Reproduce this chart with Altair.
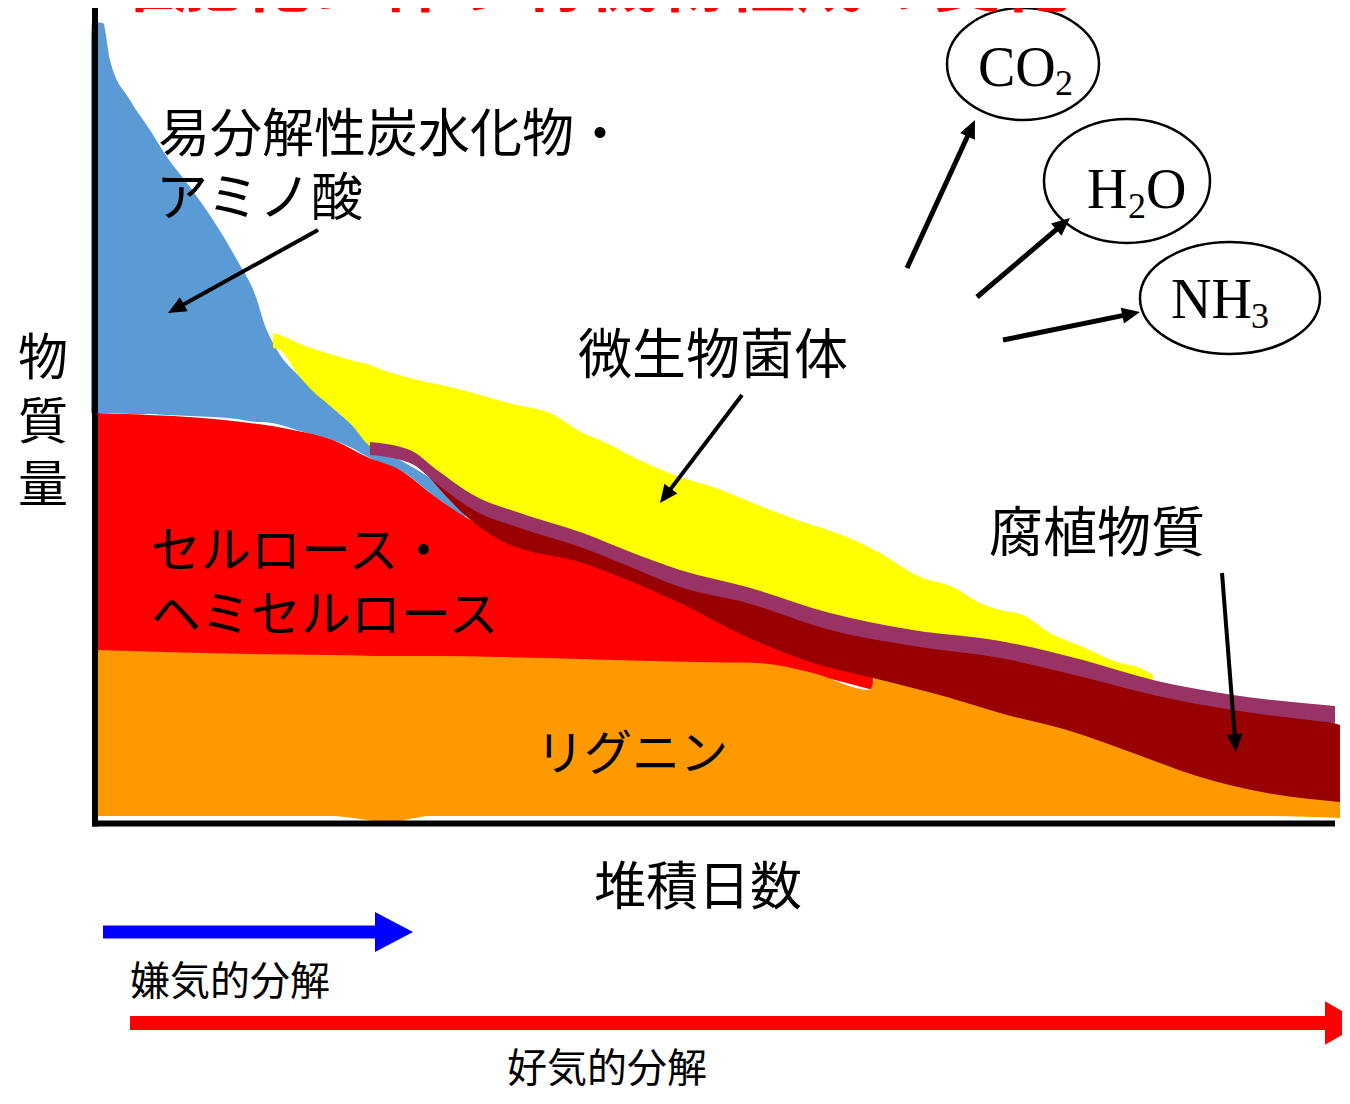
import math
import altair as alt
import pandas as pd

# ---------------- data (day, amount; arbitrary units) ----------------
# easily decomposable carbohydrates / amino acids (blue)
easy_day = [-0.4, -0.3, 0.8, 1.5, 3.5, 5.5, 7.2, 9.5, 11.8, 14.2, 16.2, 16.8, 18.2, 20.5, 23.2, 25.5, 27.5, 28.8, 30.5, 33.8, 37.0]
easy_top = [78.0, 79.8, 79.7, 76.0, 72.0, 69.0, 66.3, 63.3, 60.0, 56.0, 52.0, 50.0, 47.0, 44.3, 41.7, 39.7, 37.8, 37.0, 36.0, 34.0, 31.5]
easy_bot = [40.7, 40.7, 40.7, 40.7, 40.6, 40.6, 40.5, 40.4, 40.3, 40.1, 39.8, 39.8, 39.6, 38.9, 38.2, 37.3, 36.2, 35.6, 35.0, 32.5, 30.2]

# cellulose / hemicellulose (red)
cell_day = [0.1, 15.5, 19.8, 23.8, 27.2, 30.5, 33.8, 37.2, 40.5, 48.8, 58.5, 62.8, 66.2, 68.5, 71.8, 77.8]
cell_top = [40.7, 39.7, 39.0, 38.0, 36.3, 35.0, 32.5, 30.2, 28.5, 26.2, 22.2, 20.2, 18.8, 17.8, 16.5, 14.8]
cell_bot = [16.8, 16.5, 16.5, 16.4, 16.4, 16.3, 16.3, 16.2, 16.1, 15.9, 15.6, 15.5, 15.5, 15.1, 14.5, 13.0]

# lignin (orange)
lig_day = [0.1, 10.5, 23.5, 29.5, 33.5, 40.5, 60.5, 66.2, 71.8, 77.5, 78.1, 85.2, 90.5, 97.2, 103.8, 110.5, 117.2, 124.5]
lig_top = [17.0, 16.7, 16.5, 16.4, 16.4, 16.3, 15.8, 15.7, 14.7, 13.0, 14.5, 12.7, 11.1, 9.4, 7.1, 4.7, 3.1, 2.4]
lig_bot = [0.4, 0.4, 0.4, -0.2, 0.4, 0.4, 0.4, 0.4, 0.4, 0.4, 0.4, 0.4, 0.4, 0.4, 0.4, 0.4, 0.4, 0.2]

# microbial biomass (yellow)
mic_day = [17.8, 18.5, 20.5, 22.2, 23.2, 25.5, 27.5, 28.8, 31.5, 35.5, 42.2, 45.5, 48.8, 50.5, 53.8, 58.5,
           61.8, 66.8, 70.2, 75.2, 78.5, 82.5, 85.8, 88.5, 90.5, 92.8, 95.5, 98.8, 102.2, 104.5, 105.8]
mic_top = [48.7, 48.5, 47.6, 47.0, 46.7, 46.0, 45.5, 45.0, 44.2, 43.3, 41.5, 40.7, 38.7, 38.0, 36.3, 34.3,
           33.3, 31.3, 30.0, 28.3, 26.7, 24.3, 23.3, 21.7, 21.0, 20.5, 18.7, 17.3, 15.8, 15.2, 14.5]
mic_bot = [47.2, 47.0, 44.3, 42.5, 41.7, 39.7, 37.4, 36.9, 36.6, 33.5, 30.4, 29.3, 28.3, 27.8, 26.3, 24.6,
           23.7, 22.5, 21.4, 19.5, 19.0, 18.3, 18.0, 17.7, 17.5, 17.2, 16.5, 15.6, 14.5, 13.9, 13.0]

# humus (dark red)
hum_day = [33.5, 37.2, 40.5, 48.8, 58.5, 65.2, 71.8, 77.8, 85.2, 90.5, 97.2, 103.8, 110.5, 117.2, 124.5]
hum_top = [34.9, 32.3, 30.9, 28.1, 24.4, 22.7, 20.6, 18.9, 18.0, 17.3, 15.9, 13.8, 12.4, 11.5, 9.5]
hum_bot = [34.2, 30.3, 28.0, 25.7, 21.7, 18.3, 15.7, 14.2, 12.3, 10.7, 9.0, 6.7, 4.3, 2.7, 1.8]

# humus upper edge (purple band)
edge_day = [27.5, 31.5, 34.2, 38.2, 42.2, 48.8, 53.8, 58.5, 65.2, 73.5, 81.8, 90.5, 98.8, 105.8, 113.8, 124.0]
edge_top = [37.8, 37.0, 35.0, 32.3, 30.8, 28.7, 26.7, 25.0, 23.3, 20.7, 19.0, 17.9, 16.0, 14.0, 12.5, 11.4]
edge_bot = [36.5, 35.7, 33.6, 30.8, 29.3, 27.2, 25.2, 23.3, 21.7, 19.0, 17.4, 16.2, 14.3, 12.5, 11.0, 9.7]

# labels
jp_labels = ["易分解性炭水化物・", "アミノ酸", "微生物菌体", "腐植物質", "セルロース・", "ヘミセルロース",
             "リグニン", "嫌気的分解", "好気的分解"]
jp_day = [6.3, 6.1, 48.3, 89.4, 5.6, 5.6, 44.1, 3.5, 41.2]
jp_amt = [68.4, 62.0, 46.2, 28.4, 26.7, 20.3, 6.4, -16.3, -25.0]
jp_size = [52, 52, 54, 54, 50, 50, 48, 40, 40]

ylab_chars = ["物", "質", "量"]
ylab_amt = [46.0, 39.6, 33.3]

chem_text = ["CO", "2", "H", "2", "O", "NH", "3"]
chem_day = [88.3, 96.0, 99.2, 103.3, 105.1, 107.6, 115.6]
chem_amt = [73.4, 72.5, 61.2, 60.2, 61.2, 50.2, 49.2]
chem_size = [56, 36, 56, 36, 56, 56, 36]

# ellipses: centre, half-width, half-height (px)
ell_day = [92.8, 103.2, 113.5]
ell_amt = [75.6, 63.9, 52.2]
ell_rx = [76, 83, 90]
ell_ry = [56, 62, 56]

# thin black arrows: start -> tip
arr_x0 = [22.3, 64.7, 112.7, 81.2, 88.2, 90.8]
arr_y0 = [59.0, 42.5, 24.7, 55.2, 52.3, 48.0]
arr_x1 = [7.3, 56.5, 114.1, 88.0, 97.5, 104.5]
arr_y1 = [50.7, 31.7, 6.8, 70.0, 60.2, 50.8]
arr_w = [4, 4, 4, 5, 5, 5]

# ---------------- scales (10 px per unit in both directions) ----------------
XS = alt.Scale(domain=[-8.7, 124.7], nice=False, zero=False)
YS = alt.Scale(domain=[-27.0, 81.2], nice=False, zero=False)


def X(f):
    return alt.X(f, type="quantitative", scale=XS, axis=None)


def Y(f):
    return alt.Y(f, type="quantitative", scale=YS, axis=None)


def band(day, top, bot, color):
    df = pd.DataFrame({"day": day, "top": top, "bot": bot})
    return alt.Chart(df).mark_area(color=color, interpolate="monotone", opacity=1).encode(
        x=X("day"), y=Y("top"), y2="bot")


layers = []
layers.append(band(easy_day, easy_top, easy_bot, "#5B9BD5"))
layers.append(band(cell_day, cell_top, cell_bot, "#FF0000"))
layers.append(band(lig_day, lig_top, lig_bot, "#FF9900"))
layers.append(band(mic_day, mic_top, mic_bot, "#FFFF00"))
layers.append(band(hum_day, hum_top, hum_bot, "#990000"))
layers.append(band(edge_day, edge_top, edge_bot, "#993366"))

# axes drawn as rules
axis_v = pd.DataFrame({"x": [0.0], "y": [81.2], "y2": [-0.65]})
layers.append(alt.Chart(axis_v).mark_rule(color="black", strokeWidth=6).encode(x=X("x"), y=Y("y"), y2="y2"))
axis_h = pd.DataFrame({"x": [-0.3], "x2": [124.0], "y": [-0.35]})
layers.append(alt.Chart(axis_h).mark_rule(color="black", strokeWidth=6).encode(x=X("x"), x2="x2", y=Y("y")))

# thin arrows
rows = []
heads = []
for x0, y0, x1, y1, w in zip(arr_x0, arr_y0, arr_x1, arr_y1, arr_w):
    dx, dy = x1 - x0, y1 - y0
    ln = math.hypot(dx, dy)
    ux, uy = dx / ln, dy / ln
    rows.append({"x": x0, "y": y0, "x2": x1 - 0.8 * ux, "y2": y1 - 0.8 * uy, "w": w})
    ang = math.degrees(math.atan2(-dy, dx)) % 360
    heads.append({"x": x1, "y": y1, "ang": ang})
layers.append(alt.Chart(pd.DataFrame(rows)).mark_rule(color="black", strokeCap="butt").encode(
    x=X("x"), y=Y("y"), x2="x2", y2="y2", strokeWidth=alt.StrokeWidth("w:Q", scale=None)))
HEAD = "M 0 0 L -2 -0.9 L -2 0.9 Z"
layers.append(alt.Chart(pd.DataFrame(heads)).mark_point(
    shape=HEAD, filled=True, color="black", opacity=1, size=324, strokeWidth=0).encode(
    x=X("x"), y=Y("y"), angle=alt.Angle("ang:Q", scale=None)))

# thick process arrows (blue: anaerobic, red: aerobic)
thick = [
    {"x": 0.8, "x2": 28.1, "y": -11.2, "tip": 31.8, "c": "#0000FF", "w": 13, "r": 19, "hw": 1.05},
    {"x": 3.5, "x2": 123.1, "y": -20.3, "tip": 126.8, "c": "#FF0000", "w": 14, "r": 19, "hw": 1.15},
]
for t in thick:
    d = pd.DataFrame([t])
    layers.append(alt.Chart(d).mark_rule(color=t["c"], strokeWidth=t["w"], strokeCap="butt").encode(
        x=X("x"), x2="x2", y=Y("y")))
    layers.append(alt.Chart(d).mark_point(
        shape=f"M 0 0 L -2 -{t['hw']} L -2 {t['hw']} Z", filled=True, color=t["c"], opacity=1,
        size=(2 * t["r"]) ** 2, strokeWidth=0).encode(x=X("tip"), y=Y("y")))

# ellipses
for cx, cy, rx, ry in zip(ell_day, ell_amt, ell_rx, ell_ry):
    k = ry / rx
    path = f"M -1 0 A 1 {k:.3f} 0 1 1 1 0 A 1 {k:.3f} 0 1 1 -1 0 Z"
    d = pd.DataFrame({"x": [cx], "y": [cy]})
    layers.append(alt.Chart(d).mark_point(
        shape=path, filled=False, color="black", strokeWidth=2.5, opacity=1, size=(2 * rx) ** 2).encode(
        x=X("x"), y=Y("y")))

# Japanese labels
jp = pd.DataFrame({"label": jp_labels, "x": jp_day, "y": jp_amt, "fs": jp_size})
layers.append(alt.Chart(jp).mark_text(align="left", baseline="middle", font="Noto Sans CJK JP", color="black").encode(
    x=X("x"), y=Y("y"), text="label:N", size=alt.Size("fs:Q", scale=None)))

ylab = pd.DataFrame({"label": ylab_chars, "x": [-5.2] * 3, "y": ylab_amt})
layers.append(alt.Chart(ylab).mark_text(align="center", baseline="middle", font="Noto Sans CJK JP",
                                        fontSize=50, color="black").encode(x=X("x"), y=Y("y"), text="label:N"))

xlab = pd.DataFrame({"label": ["堆積日数"], "x": [60.3], "y": [-6.9]})
layers.append(alt.Chart(xlab).mark_text(align="center", baseline="middle", font="Noto Sans CJK JP",
                                        fontSize=52, color="black").encode(x=X("x"), y=Y("y"), text="label:N"))

title = pd.DataFrame({"label": ["堆肥化に伴う有機物組成の変化"], "x": [1.0], "y": [81.4]})
layers.append(alt.Chart(title).mark_text(align="left", baseline="alphabetic", font="Noto Sans CJK JP",
                                         fontSize=69, fontWeight="bold", color="#FF0000").encode(
    x=X("x"), y=Y("y"), text="label:N"))

chem = pd.DataFrame({"label": chem_text, "x": chem_day, "y": chem_amt, "fs": chem_size})
layers.append(alt.Chart(chem).mark_text(align="left", baseline="alphabetic", font="Liberation Serif",
                                        color="black").encode(
    x=X("x"), y=Y("y"), text="label:N", size=alt.Size("fs:Q", scale=None)))

chart = alt.layer(*layers).properties(
    width=1334, height=1082, padding=0, autosize="none", background="white"
).configure_view(stroke=None)

chart.save("out.html", embed_options={"renderer": "svg", "actions": False})
